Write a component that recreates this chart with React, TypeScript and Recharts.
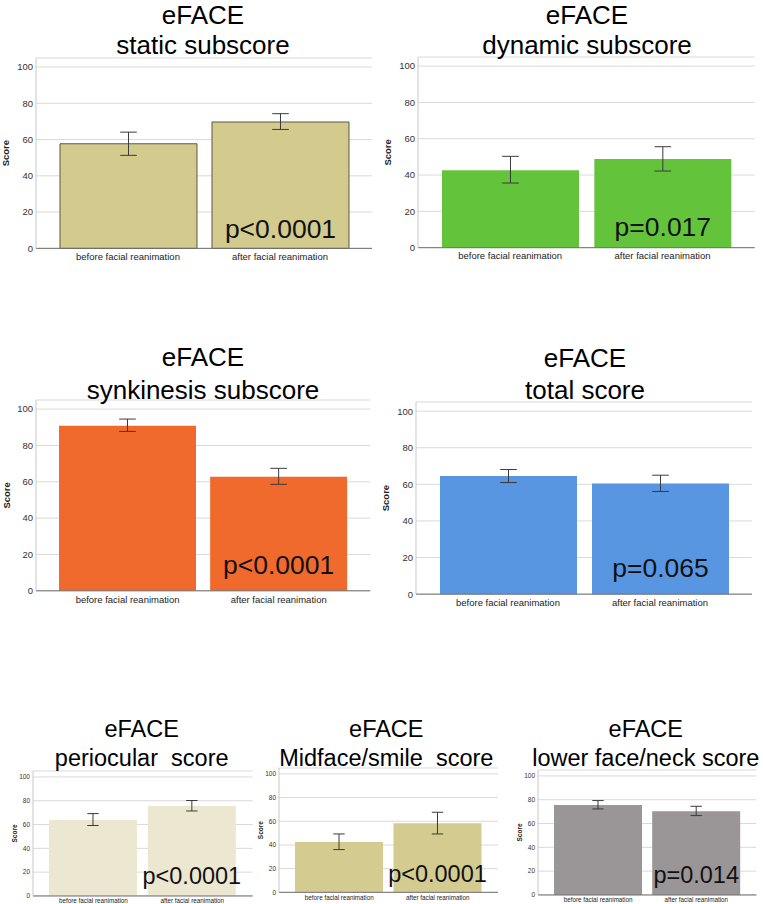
import React from "react";
import {
  BarChart,
  Bar,
  XAxis,
  YAxis,
  CartesianGrid,
  ErrorBar,
  LabelList,
} from "recharts";

const FONT = "'Liberation Sans', Arial, sans-serif";

// x categories
const groups = ["before facial reanimation", "after facial reanimation"];
const yTicks = [0, 20, 40, 60, 80, 100];

// mean score + 95% CI
const staticMean = [57.7, 69.7];
const staticLo = [51.3, 65.6];
const staticHi = [64.1, 74.3];

const dynamicMean = [42.6, 48.8];
const dynamicLo = [35.6, 42.2];
const dynamicHi = [50.3, 55.6];

const synkMean = [90.8, 62.7];
const synkLo = [87.7, 58.6];
const synkHi = [94.5, 67.4];

const totalMean = [64.5, 60.5];
const totalLo = [61.0, 56.1];
const totalHi = [68.1, 65.0];

const perioMean = [63.9, 75.6];
const perioLo = [59.2, 71.4];
const perioHi = [69.2, 80.2];

const midMean = [42.6, 58.3];
const midLo = [36.1, 49.3];
const midHi = [49.3, 67.6];

const lowerMean = [75.6, 70.3];
const lowerLo = [72.3, 66.7];
const lowerHi = [79.3, 74.5];

const pValues = ["p<0.0001", "p=0.017", "p<0.0001", "p=0.065", "p<0.0001", "p<0.0001", "p=0.014"];

const titles = [
  ["eFACE", "static subscore"],
  ["eFACE", "dynamic subscore"],
  ["eFACE", "synkinesis subscore"],
  ["eFACE", "total score"],
  ["eFACE", "periocular  score"],
  ["eFACE", "Midface/smile  score"],
  ["eFACE", "lower face/neck score"],
];

function rows(mean: number[], lo: number[], hi: number[], p: string) {
  return groups.map((g, i) => ({
    name: g,
    mean: mean[i],
    err: [mean[i] - lo[i], hi[i] - mean[i]],
    p: i === 1 ? p : "",
  }));
}

// layout: plot box in page pixels, title position
const panels = [
  { data: rows(staticMean, staticLo, staticHi, pValues[0]), fill: "#d3ca8e", stroke: "#5a5842", x0: 36, x1: 372, y100: 66.7, y0: 248, big: true, pOff: 10, tx: 203, t1: 24, t2: 54 },
  { data: rows(dynamicMean, dynamicLo, dynamicHi, pValues[1]), fill: "#63c43c", x0: 418.3, x1: 755, y100: 65.7, y0: 247.3, big: true, pOff: 12, tx: 587, t1: 24, t2: 54 },
  { data: rows(synkMean, synkLo, synkHi, pValues[2]), fill: "#f06a2e", x0: 35.7, x1: 370, y100: 409, y0: 590.7, big: true, pOff: 17, tx: 203, t1: 366, t2: 399 },
  { data: rows(totalMean, totalLo, totalHi, pValues[3]), fill: "#5896e1", x0: 415.7, x1: 751.7, y100: 411, y0: 594, big: true, pOff: 17, tx: 585, t1: 366.5, t2: 399 },
  { data: rows(perioMean, perioLo, perioHi, pValues[4]), fill: "#ece7d1", x0: 33.3, x1: 253, y100: 776.7, y0: 895.7, big: false, pOff: 12, tx: 141.7, t1: 736.7, t2: 766 },
  { data: rows(midMean, midLo, midHi, pValues[5]), fill: "#d3cb8f", x0: 279.3, x1: 498.3, y100: 774.3, y0: 892.7, big: false, pOff: 10, tx: 386.3, t1: 736.7, t2: 766 },
  { data: rows(lowerMean, lowerLo, lowerHi, pValues[6]), fill: "#9a9697", x0: 538.3, x1: 756.7, y100: 775.7, y0: 894.7, big: false, pOff: 12, tx: 645.8, t1: 736.7, t2: 766 },
];

function Panel({ cfg }: { cfg: any }) {
  const { x0, x1, y100, y0, big } = cfg;
  const ytop = y0 - 1.05 * (y0 - y100);
  const yw = 36;
  const xh = big ? 20 : 12;
  const m = 4;
  const width = x1 - x0 + yw + m;
  const height = y0 - ytop + m + xh;
  const tickFs = big ? 9.5 : 6.5;
  const xFs = big ? 9.5 : 6.3;
  const pFs = big ? 26.5 : 23.5;
  const scoreGap = big ? 30 : 18.5;

  return (
    <div style={{ position: "absolute", left: x0 - yw, top: ytop - m }}>
      <BarChart
        width={width}
        height={height}
        data={cfg.data}
        margin={{ top: m, right: m, bottom: 0, left: 0 }}
        barSize={big ? 137 : 88}
      >
        <CartesianGrid vertical={false} stroke="#d9d9d9" />
        <XAxis
          dataKey="name"
          interval={0}
          height={xh}
          padding={big ? { left: 16, right: 16 } : { left: 11, right: 11 }}
          tickLine={false}
          tickSize={big ? 3 : 1}
          tickMargin={2}
          axisLine={{ stroke: "#707070" }}
          tick={{ fontSize: xFs, fill: "#222", fontFamily: FONT }}
        />
        <YAxis
          width={yw}
          domain={[0, 105]}
          ticks={yTicks}
          tickLine={false}
          tickSize={2}
          tickMargin={1}
          axisLine={{ stroke: "#c8c8c8" }}
          tick={{ fontSize: tickFs, fill: "#333", fontFamily: FONT }}
          label={(props: any) => {
            const vb = props.viewBox || {};
            const cx = vb.x + vb.width - scoreGap;
            const cy = vb.y + vb.height / 2;
            return (
              <text
                x={cx}
                y={cy}
                transform={`rotate(-90 ${cx} ${cy})`}
                textAnchor="middle"
                dominantBaseline="central"
                fontSize={tickFs}
                fontWeight="bold"
                fontFamily={FONT}
                fill="#222"
              >
                Score
              </text>
            );
          }}
        />
        <Bar
          dataKey="mean"
          fill={cfg.fill}
          stroke={cfg.stroke || "none"}
          strokeWidth={1}
          isAnimationActive={false}
        >
          <ErrorBar dataKey="err" width={big ? 8.3 : 5.7} stroke="#3a3a3a" strokeWidth={1} />
          <LabelList
            dataKey="p"
            content={(props: any) => {
              if (!props.value) return null;
              const x = Number(props.x) + Number(props.width) / 2;
              const y = Number(props.y) + Number(props.height) - cfg.pOff;
              return (
                <text x={x} y={y} textAnchor="middle" fontSize={pFs} fontFamily={FONT} fill="#111">
                  {props.value}
                </text>
              );
            }}
          />
        </Bar>
      </BarChart>
    </div>
  );
}

export default function App() {
  return (
    <div
      style={{
        position: "absolute",
        left: 0,
        top: 0,
        width: 763,
        height: 904,
        background: "#fff",
        overflow: "hidden",
        fontFamily: FONT,
      }}
    >
      {panels.map((p, i) => (
        <Panel key={i} cfg={p} />
      ))}
      <svg width={763} height={904} style={{ position: "absolute", left: 0, top: 0, pointerEvents: "none" }}>
        {panels.map((p, i) => {
          const fs = p.big ? 26 : 23.5;
          return (
            <g key={i} fontFamily={FONT} fontSize={fs} fill="#000" textAnchor="middle">
              <text x={p.tx} y={p.t1} style={{ whiteSpace: "pre" }}>{titles[i][0]}</text>
              <text x={p.tx} y={p.t2} style={{ whiteSpace: "pre" }}>{titles[i][1]}</text>
            </g>
          );
        })}
      </svg>
    </div>
  );
}
